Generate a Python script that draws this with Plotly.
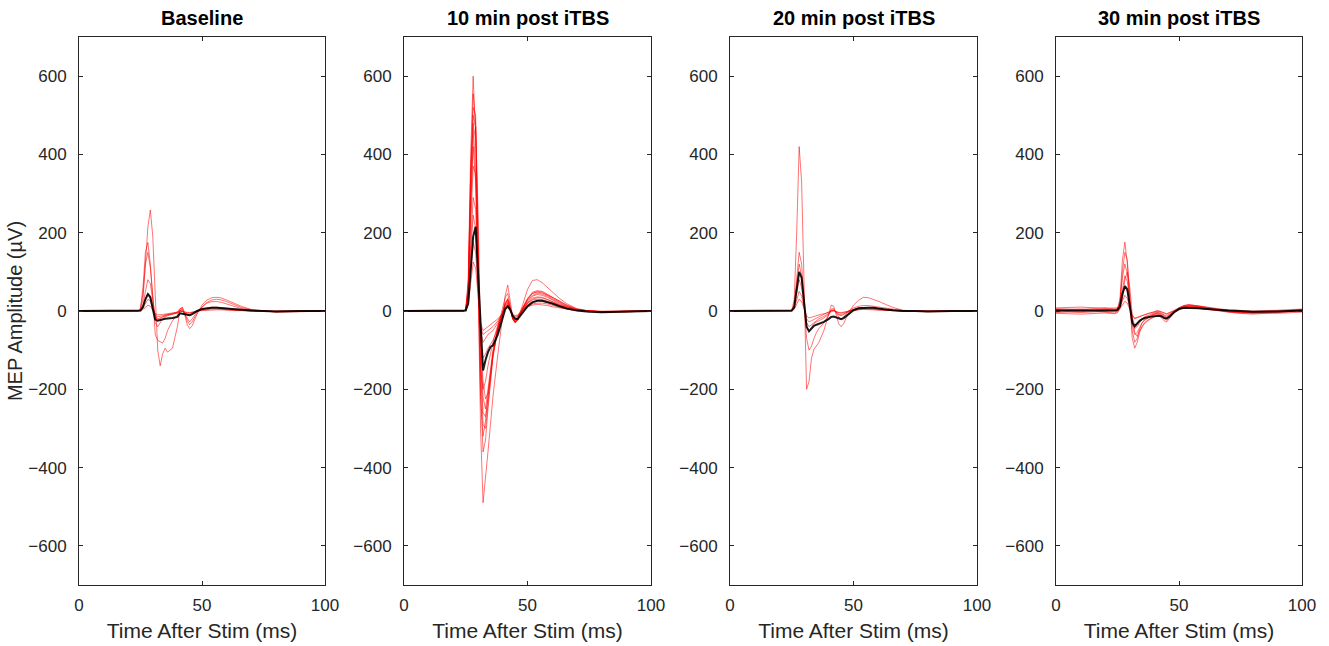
import plotly.graph_objects as go

# Time grid (ms) shared by all traces
time_ms = [0, 10, 20, 24, 25, 26, 27, 28, 29, 30, 31, 32, 33, 34, 35, 36, 38, 40, 41, 42,
           43, 44, 45, 46, 48, 50, 52, 54, 56, 58, 60, 63, 66, 70, 75, 80, 90, 100]

panel_titles = ["Baseline", "10 min post iTBS", "20 min post iTBS", "30 min post iTBS"]
x_ticks = [0, 50, 100]
y_ticks = [-600, -400, -200, 0, 200, 400, 600]

# ---- Baseline: individual trials (µV) ----
baseline_trials = [
    [0, 0, 0, 0, 3, 30, 120, 215, 258, 190, 40, -100, -140, -110, -95, -105, -95, -40, 0, 8, -10, -35, -45, -38, -8, 15, 28, 34, 35, 33, 28, 20, 12, 4, 0, -3, -2, 0],
    [0, 0, 0, 0, 8, 60, 150, 175, 120, 20, -60, -75, -78, -82, -70, -50, -25, -10, 5, 10, -5, -25, -35, -28, -5, 10, 22, 28, 30, 28, 24, 16, 9, 3, 0, -2, -1, 0],
    [0, 0, 0, 0, 5, 45, 120, 150, 110, 30, -30, -40, -30, -20, -15, -12, -8, -2, 6, 4, -8, -20, -28, -20, -2, 10, 20, 24, 24, 22, 18, 12, 6, 2, 0, -2, -1, 0],
    [0, 0, 0, 0, 2, 15, 50, 80, 70, 20, -15, -22, -20, -15, -12, -10, -8, -5, 2, 0, -5, -8, -8, -5, 0, 4, 8, 10, 10, 9, 7, 5, 3, 1, 0, -1, 0, 0],
    [0, 0, 0, 0, 1, 8, 20, 30, 25, 5, -10, -15, -14, -12, -10, -8, -6, -4, 0, 0, -3, -5, -5, -3, 0, 2, 4, 5, 5, 4, 3, 2, 1, 0, 0, 0, 0, 0],
    [0, 0, 0, 0, 0, 4, 10, 15, 12, 3, -6, -10, -10, -9, -8, -7, -5, -3, -1, -1, -3, -4, -4, -3, 0, 1, 2, 3, 3, 3, 2, 1, 1, 0, 0, -1, 0, 0],
    [0, 0, 0, 0, 2, 12, 32, 45, 38, 10, -12, -20, -18, -15, -12, -10, -8, -5, 0, -1, -6, -10, -10, -7, 0, 4, 7, 8, 8, 7, 5, 3, 2, 0, 0, -1, 0, 0],
]
baseline_mean = [0, 0, 0, 0, 1, 10, 30, 43, 35, 5, -22, -25, -23, -21, -20, -19, -18, -15, -6, -7, -9, -11, -11, -8, 0, 5, 7, 8, 8, 7, 6, 4, 2, 1, 0, -1, 0, 0]

# ---- 10 min post iTBS ----
post10_trials = [
    [0, 0, 0, 0, 5, 80, 400, 600, 450, 100, -300, -490, -430, -360, -290, -220, -110, -10, 40, 66, 20, -15, -25, -20, 5, 30, 45, 50, 48, 42, 35, 25, 15, 5, 0, -3, -2, 0],
    [0, 0, 0, 0, 3, 60, 350, 555, 480, 150, -200, -360, -330, -250, -180, -120, -40, 10, 35, 45, 15, -20, -30, -20, 15, 55, 78, 80, 72, 60, 48, 32, 18, 6, 0, -3, -2, 0],
    [0, 0, 0, 0, 3, 50, 300, 500, 470, 200, -150, -290, -300, -240, -170, -110, -50, -5, 20, 30, 10, -20, -30, -22, 8, 30, 45, 48, 46, 40, 33, 22, 12, 4, 0, -2, -2, 0],
    [0, 0, 0, 0, 2, 40, 250, 440, 470, 250, -80, -220, -250, -200, -150, -100, -40, 0, 18, 25, 8, -18, -28, -20, 6, 25, 38, 42, 40, 35, 28, 18, 10, 3, 0, -2, -1, 0],
    [0, 0, 0, 0, 3, 55, 280, 420, 330, 80, -150, -200, -180, -140, -110, -80, -35, 0, 15, 22, 5, -20, -28, -22, 4, 22, 33, 36, 35, 30, 24, 16, 9, 3, 0, -2, -1, 0],
    [0, 0, 0, 0, 2, 40, 220, 370, 350, 160, -60, -180, -225, -210, -160, -110, -45, -5, 12, 20, 5, -20, -30, -24, 2, 20, 30, 34, 33, 29, 23, 15, 8, 2, 0, -2, -1, 0],
    [0, 0, 0, 0, 2, 35, 170, 290, 260, 80, -80, -120, -110, -95, -85, -75, -45, -8, 10, 18, 5, -15, -22, -16, 5, 20, 28, 30, 29, 25, 20, 13, 7, 2, 0, -2, -1, 0],
    [0, 0, 0, 0, 2, 30, 150, 245, 210, 60, -50, -80, -70, -60, -55, -50, -30, -5, 8, 15, 5, -12, -18, -14, 4, 16, 24, 26, 25, 22, 18, 12, 6, 2, 0, -1, -1, 0],
    [0, 0, 0, 0, 1, 20, 100, 175, 150, 40, -40, -60, -55, -50, -45, -40, -25, -5, 6, 12, 4, -10, -15, -12, 3, 12, 18, 20, 20, 18, 14, 10, 5, 1, 0, -1, 0, 0],
    [0, 0, 0, 0, 4, 70, 360, 480, 350, 50, -220, -320, -280, -220, -160, -110, -45, -5, 20, 32, 10, -18, -28, -20, 8, 32, 48, 52, 50, 44, 36, 25, 14, 4, 0, -2, -1, 0],
    [0, 0, 0, 0, 1, 15, 70, 125, 110, 30, -30, -50, -45, -40, -35, -30, -20, -5, 5, 10, 3, -8, -12, -10, 2, 10, 15, 17, 16, 14, 11, 8, 4, 1, 0, -1, 0, 0],
    [0, 0, 0, 0, 3, 50, 320, 520, 500, 230, -120, -260, -270, -220, -165, -115, -50, -5, 18, 28, 8, -18, -28, -22, 6, 28, 40, 45, 43, 38, 30, 20, 11, 3, 0, -2, -1, 0],
]
post10_mean = [0, 0, 0, 0, 1, 20, 100, 190, 215, 80, -50, -152, -125, -105, -92, -88, -60, -15, 5, 12, 3, -12, -20, -21, -5, 12, 22, 26, 26, 23, 19, 12, 6, 1, -2, -3, -1, 0]

# ---- 20 min post iTBS ----
post20_trials = [
    [0, 0, 0, 0, 2, 30, 200, 420, 330, 60, -200, -180, -120, -98, -88, -80, -50, -8, 15, 12, -10, -32, -40, -32, -5, 15, 27, 35, 34, 30, 25, 17, 9, 2, 0, -2, -1, 0],
    [0, 0, 0, 0, 1, 15, 80, 150, 120, 30, -70, -100, -90, -70, -55, -45, -30, -10, 5, 6, -5, -15, -20, -15, 0, 8, 12, 14, 14, 12, 10, 7, 4, 1, 0, -1, 0, 0],
    [0, 0, 0, 0, 1, 12, 70, 120, 90, 20, -40, -50, -40, -32, -28, -25, -18, -8, 2, 3, -4, -10, -12, -9, 0, 5, 8, 9, 9, 8, 6, 4, 2, 0, 0, 0, 0, 0],
    [0, 0, 0, 0, 1, 10, 45, 80, 60, 10, -30, -40, -35, -28, -24, -20, -14, -6, 1, 2, -3, -8, -10, -7, 0, 4, 6, 7, 7, 6, 5, 3, 1, 0, 0, 0, 0, 0],
    [0, 0, 0, 0, 0, 6, 28, 50, 38, 5, -20, -28, -25, -20, -17, -15, -10, -4, 1, 1, -2, -5, -6, -4, 0, 2, 4, 5, 5, 4, 3, 2, 1, 0, 0, 0, 0, 0],
    [0, 0, 0, 0, 0, 4, 18, 30, 24, 3, -12, -18, -16, -13, -11, -10, -7, -3, 0, 0, -2, -4, -4, -3, 0, 2, 3, 4, 4, 3, 2, 1, 1, 0, 0, 0, 0, 0],
]
post20_mean = [0, 0, 0, 0, 1, 10, 50, 100, 85, 20, -40, -52, -45, -38, -35, -33, -28, -20, -15, -14, -17, -20, -21, -18, -8, 2, 7, 8, 8, 8, 7, 4, 2, 0, 0, -1, 0, 0]

# ---- 30 min post iTBS ----
post30_trials = [
    [3, -2, 4, 2, 5, 30, 130, 176, 120, 20, -70, -95, -80, -55, -40, -32, -22, -15, -10, -12, -18, -25, -28, -20, -5, 5, 12, 15, 14, 12, 10, 6, 3, 1, -3, -5, -2, 2],
    [-4, 2, -3, -5, 0, 20, 100, 150, 130, 40, -50, -80, -70, -50, -38, -30, -20, -12, -8, -10, -15, -20, -24, -18, -4, 6, 10, 13, 12, 10, 8, 5, 2, -2, -4, -6, -3, 1],
    [6, 4, 8, 5, 7, 25, 85, 120, 95, 25, -35, -60, -55, -42, -30, -24, -15, -8, -5, -6, -10, -15, -18, -12, 0, 8, 14, 16, 15, 13, 11, 7, 4, 2, -1, -2, 0, 4],
    [-6, -8, -5, -7, -4, 10, 55, 90, 75, 15, -30, -45, -40, -30, -22, -18, -12, -6, -4, -5, -9, -13, -15, -10, -2, 6, 10, 12, 11, 9, 7, 4, 1, -2, -5, -4, -6, -3],
    [2, 5, 0, 3, 4, 12, 40, 60, 50, 10, -20, -35, -32, -25, -20, -15, -10, -5, -2, -3, -7, -10, -12, -8, 0, 8, 12, 13, 12, 10, 8, 5, 3, 0, -2, -4, -1, 3],
    [8, 10, 7, 9, 8, 12, 28, 40, 32, 8, -10, -20, -18, -15, -12, -10, -7, -3, 0, -1, -4, -7, -8, -5, 2, 9, 14, 16, 15, 13, 11, 8, 6, 3, 1, 0, 2, 5],
    [-2, -4, -1, 0, -3, 5, 30, 80, 100, 60, -10, -55, -65, -45, -30, -22, -15, -10, -6, -8, -12, -18, -20, -15, -3, 4, 9, 11, 10, 8, 6, 3, 0, -3, -6, -8, -4, 0],
    [4, 0, 5, 1, 2, 6, 15, 25, 20, 3, -12, -18, -16, -12, -10, -8, -5, -2, 1, 0, -3, -6, -7, -4, 1, 5, 8, 9, 8, 7, 5, 3, 1, -1, -3, -2, 0, 2],
]
post30_mean = [1, 1, 2, 1, 3, 12, 45, 64, 55, 10, -30, -39, -32, -25, -21, -18, -15, -13, -12, -12, -14, -18, -19, -15, -3, 5, 8, 8, 8, 7, 6, 4, 3, 1, 0, -2, -1, 1]

panels = [
    (baseline_trials, baseline_mean),
    (post10_trials, post10_mean),
    (post20_trials, post20_mean),
    (post30_trials, post30_mean),
]

W, H = 1329, 646
x_px = [(79, 325), (404, 651), (730, 977), (1056, 1302)]
y_dom = [1 - 585 / H, 1 - 37 / H]

FONT = "Liberation Sans, Arial, Helvetica, sans-serif"
AX = "#262626"

fig = go.Figure()
layout = dict(
    width=W, height=H, autosize=False,
    margin=dict(l=0, r=0, t=0, b=0, autoexpand=False),
    paper_bgcolor="white", plot_bgcolor="white",
    showlegend=False,
    font=dict(family=FONT, color=AX, size=17),
)
annotations = []
for i, ((trials, mean), (x0, x1)) in enumerate(zip(panels, x_px)):
    n = i + 1
    xa = "x" if n == 1 else f"x{n}"
    ya = "y" if n == 1 else f"y{n}"
    for tr in trials:
        fig.add_trace(go.Scatter(x=time_ms, y=tr, mode="lines", xaxis=xa, yaxis=ya,
                                 line=dict(color="rgba(255,0,0,0.55)", width=1),
                                 hoverinfo="skip"))
    fig.add_trace(go.Scatter(x=time_ms, y=mean, mode="lines", xaxis=xa, yaxis=ya,
                             line=dict(color="rgba(0,0,0,0.9)", width=2), hoverinfo="skip"))
    dom = [x0 / W, x1 / W]
    layout["xaxis" if n == 1 else f"xaxis{n}"] = dict(
        domain=dom, anchor=ya, range=[0, 100], tickvals=x_ticks,
        ticks="inside", ticklen=4, tickcolor=AX, showline=True, linecolor=AX, linewidth=1,
        mirror="ticks", showgrid=False, zeroline=False, ticklabelstandoff=5, automargin=False,
        tickfont=dict(size=17, color=AX, family=FONT),
        title=dict(text="Time After Stim (ms)", font=dict(size=21, color=AX, family=FONT), standoff=8),
    )
    ydict = dict(
        domain=y_dom, anchor=xa, range=[-700, 700], tickvals=y_ticks,
        ticks="inside", ticklen=4, tickcolor=AX, showline=True, linecolor=AX, linewidth=1,
        mirror="ticks", showgrid=False, zeroline=False, ticklabelstandoff=8, automargin=False,
        tickfont=dict(size=17, color=AX, family=FONT),
    )
    if n == 1:
        ydict["title"] = dict(text="MEP Amplitude (µV)", font=dict(size=20, color=AX, family=FONT), standoff=0)
    layout["yaxis" if n == 1 else f"yaxis{n}"] = ydict
    annotations.append(dict(
        text=f"<b>{panel_titles[i]}</b>", x=(dom[0] + dom[1]) / 2, y=y_dom[1],
        xref="paper", yref="paper", xanchor="center", yanchor="bottom", yshift=6,
        showarrow=False, font=dict(size=20, color="black", family=FONT),
    ))
layout["annotations"] = annotations
fig.update_layout(**layout)
fig.write_html(
    "out.html",
    config={"responsive": False, "displayModeBar": False},
    post_script="document.body.style.margin='0';document.body.style.overflow='hidden';",
)
